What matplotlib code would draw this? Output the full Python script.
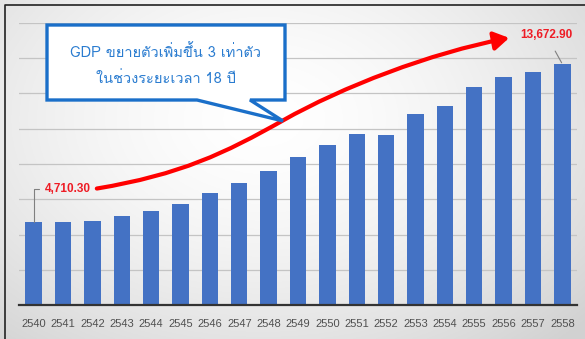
import numpy as np
import matplotlib
matplotlib.use("Agg")
import matplotlib.pyplot as plt
from matplotlib import font_manager as fm
from matplotlib.ft2font import FT2Font
from matplotlib.path import Path
from matplotlib.patches import FancyArrowPatch, Polygon
from matplotlib.lines import Line2D

# ---------------- data ----------------
years = ["2540", "2541", "2542", "2543", "2544", "2545", "2546", "2547", "2548", "2549",
         "2550", "2551", "2552", "2553", "2554", "2555", "2556", "2557", "2558"]
gdp = [4710.30, 4690, 4790, 5070, 5360, 5750, 6380, 6950, 7580, 8370,
       9060, 9690, 9630, 10820, 11280, 12360, 12930, 13220, 13672.90]
first_label = "4,710.30"
last_label = "13,672.90"
callout_lines = ["GDP ขยายตัวเพิ่มขึ้น 3 เท่าตัว", "ในช่วงระยะเวลา 18 ปี"]

# ---------------- fonts ----------------
thai_family = None
for f in fm.fontManager.ttflist:
    try:
        ft = FT2Font(f.fname)
        if ft.get_char_index(0x0E02) and ft.get_char_index(0x0E40):
            thai_family = f.name
            break
    except Exception:
        pass
thai_fonts = [thai_family, "DejaVu Sans"] if thai_family else ["DejaVu Sans"]

W, H = 585, 339
fig = plt.figure(figsize=(W / 100, H / 100), dpi=100)

def fx(px):
    return px / W

def fy(py):
    return 1 - py / H

# background gradient
bg = fig.add_axes([0, 0, 1, 1], zorder=-10)
yy, xx = np.mgrid[0:1:200j, 0:1:340j]
r = np.sqrt(((xx - 0.45) / 0.75) ** 2 + ((yy - 0.35) / 0.9) ** 2)
r = np.clip(r, 0, 1)
light = np.array([1.0, 1.0, 1.0])
dark = np.array([0.82, 0.82, 0.82])
img = light[None, None, :] * (1 - r[..., None] ** 1.6) + dark[None, None, :] * (r[..., None] ** 1.6)
bg.imshow(img, aspect="auto", extent=[0, 1, 0, 1], origin="upper")
bg.set_axis_off()

# main axes
ax = fig.add_axes([fx(19), fy(305), fx(577) - fx(19), fy(23) - fy(305)])
ax.set_facecolor("none")
x = np.arange(len(years))
ax.bar(x, gdp, width=0.56, color="#4472c4", zorder=3)
ax.set_xlim(-0.5, len(years) - 0.5)
ax.set_ylim(0, 16000)
ax.set_yticks(np.arange(0, 16001, 2000))
ax.yaxis.grid(True, color="#c4c4c4", lw=0.9, zorder=0)
ax.tick_params(axis="y", left=False, labelleft=False)
ax.set_xticks(x)
ax.set_xticklabels(years, fontsize=8, color="#505050", family=["Liberation Sans", "DejaVu Sans"])
ax.tick_params(axis="x", length=0, pad=10)
for s in ["left", "right", "top"]:
    ax.spines[s].set_visible(False)
ax.spines["bottom"].set_color("#333333")
ax.spines["bottom"].set_linewidth(1.6)
ax.spines["bottom"].set_zorder(4)

# red curved arrow (annotation, data coords)
verts = [(2.15, 6608), (5.0, 7400), (6.5, 8600), (8.5, 10482),
         (10.5, 12364), (13.5, 14300), (16.19, 15154)]
codes = [Path.MOVETO, Path.CURVE4, Path.CURVE4, Path.CURVE4,
         Path.CURVE4, Path.CURVE4, Path.CURVE4]
arrow = FancyArrowPatch(path=Path(verts, codes), arrowstyle="-|>,head_length=9,head_width=5.5",
                        color="#ff0000", lw=3, zorder=6, transform=ax.transData,
                        shrinkA=0, shrinkB=0)
ax.add_patch(arrow)

# data labels with leader lines
lab_font = ["Liberation Sans Narrow", "Liberation Sans", "DejaVu Sans"]
ax.annotate(first_label, xy=(0, gdp[0]), xytext=(11, 33), textcoords="offset pixels",
            ha="left", va="center", fontsize=8.5, fontweight="bold", color="#ee1c25",
            family=lab_font, zorder=7,
            arrowprops=dict(arrowstyle="-", color="#808080", lw=0.8,
                            connectionstyle="angle,angleA=0,angleB=90,rad=0",
                            shrinkA=2, shrinkB=0))
ax.annotate(last_label, xy=(len(years) - 1, gdp[-1]), xytext=(-16, 29), textcoords="offset pixels",
            ha="center", va="center", fontsize=8.5, fontweight="bold", color="#ee1c25",
            family=lab_font, zorder=7,
            arrowprops=dict(arrowstyle="-", color="#808080", lw=0.8, shrinkA=6, shrinkB=1))

# callout box (figure coordinates)
box_pts = [(47, 25), (285, 25), (285, 100), (250, 100), (283, 121), (197, 100), (47, 100)]
poly = Polygon([(fx(a), fy(b)) for a, b in box_pts], closed=True, transform=fig.transFigure,
               facecolor="white", edgecolor="#1a6fc9", lw=2.4, joinstyle="miter", zorder=8)
fig.add_artist(poly)
fig.text(fx(166), fy(52), callout_lines[0], ha="center", va="center", fontsize=10.5,
         color="#2a7cd0", family=thai_fonts, zorder=9)
fig.text(fx(166), fy(79), callout_lines[1], ha="center", va="center", fontsize=10.5,
         color="#2a7cd0", family=thai_fonts, zorder=9)

# outer frame (left + top)
fig.add_artist(Line2D([fx(5), fx(5), 1], [0, fy(5), fy(5)], transform=fig.transFigure,
                      color="#222222", lw=1.2, zorder=10))

fig.savefig("out.png", dpi=100)
